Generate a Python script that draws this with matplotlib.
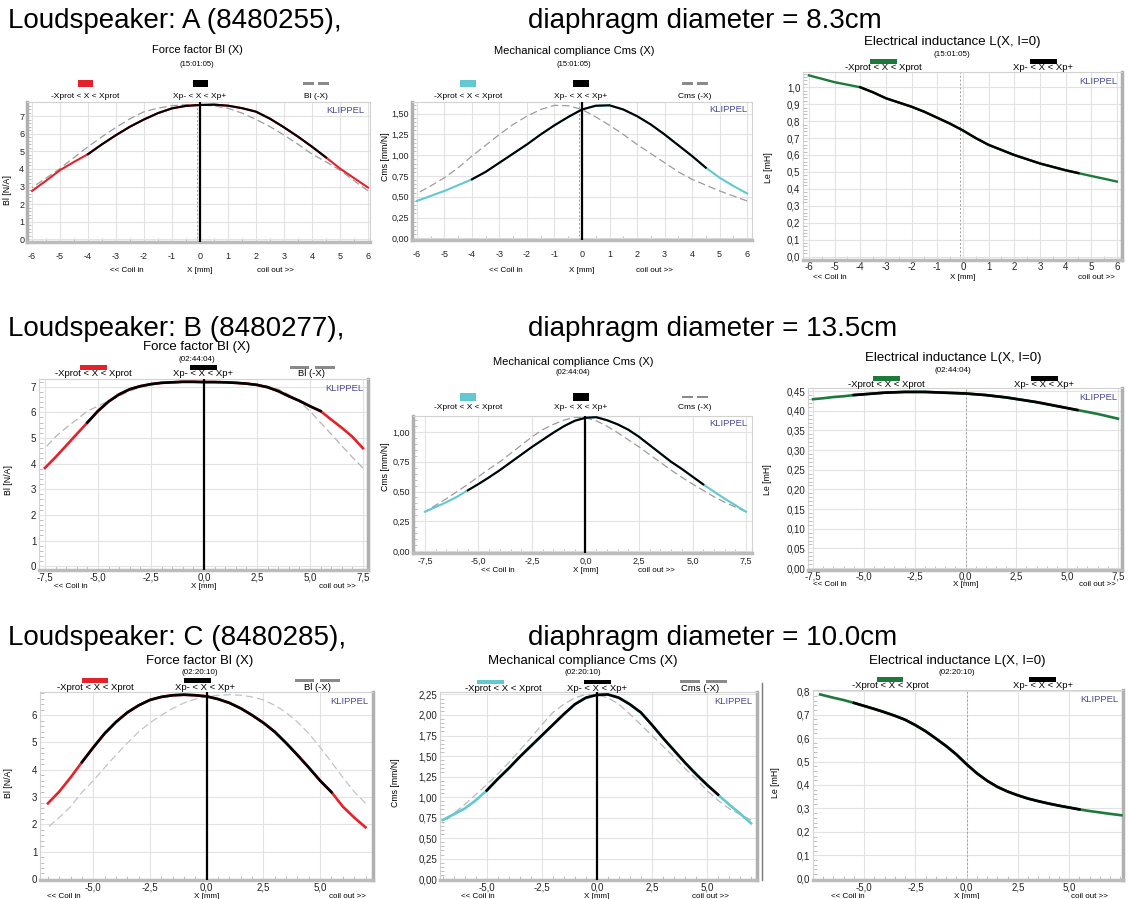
import numpy as np
import matplotlib
matplotlib.use("Agg")
import matplotlib.pyplot as plt
from matplotlib import font_manager
from matplotlib.patches import Rectangle
from matplotlib.lines import Line2D
from matplotlib.ticker import MultipleLocator, FuncFormatter

# ---------------- data ----------------
headers = ["Loudspeaker: A (8480255),", "Loudspeaker: B (8480277),", "Loudspeaker: C (8480285),"]
diameters = ["diaphragm diameter = 8.3cm", "diaphragm diameter = 13.5cm", "diaphragm diameter = 10.0cm"]
stamps = ["(15:01:05)", "(02:44:04)", "(02:20:10)"]

# loudspeaker A
x_a = [-6.0, -5.5, -5.0, -4.5, -4.0, -3.5, -3.0, -2.5, -2.0, -1.5, -1.0, -0.5, 0.0,
       0.5, 1.0, 1.5, 2.0, 2.5, 3.0, 3.5, 4.0, 4.5, 5.0, 5.5, 6.0]
bl_a = [2.75, 3.33, 3.93, 4.40, 4.84, 5.40, 5.92, 6.40, 6.81, 7.17, 7.44, 7.58, 7.63,
        7.65, 7.59, 7.45, 7.25, 6.85, 6.36, 5.83, 5.26, 4.65, 4.02, 3.48, 2.94]
cms_a = [0.45, 0.51, 0.57, 0.64, 0.71, 0.80, 0.91, 1.02, 1.13, 1.25, 1.36, 1.46, 1.55,
         1.595, 1.60, 1.55, 1.47, 1.37, 1.25, 1.12, 0.99, 0.85, 0.73, 0.63, 0.54]
le_a = [1.07, 1.05, 1.03, 1.015, 1.00, 0.97, 0.935, 0.91, 0.885, 0.855, 0.82, 0.785, 0.745,
        0.70, 0.66, 0.63, 0.60, 0.575, 0.55, 0.53, 0.51, 0.493, 0.476, 0.46, 0.443]

# loudspeaker B
x_b = [-7.5, -7.0, -6.5, -6.0, -5.5, -5.0, -4.5, -4.0, -3.5, -3.0, -2.5, -2.0, -1.5, -1.0, -0.5, 0.0,
       0.5, 1.0, 1.5, 2.0, 2.5, 3.0, 3.5, 4.0, 4.5, 5.0, 5.5, 6.0, 6.5, 7.0, 7.5]
bl_b = [3.83, 4.25, 4.70, 5.15, 5.60, 6.05, 6.42, 6.70, 6.90, 7.02, 7.10, 7.15, 7.17, 7.19, 7.19, 7.18,
        7.18, 7.17, 7.15, 7.12, 7.07, 6.98, 6.83, 6.63, 6.45, 6.24, 6.05, 5.72, 5.40, 5.05, 4.60]
cms_b = [0.33, 0.37, 0.41, 0.456, 0.51, 0.563, 0.62, 0.68, 0.745, 0.81, 0.875, 0.935, 0.995, 1.05, 1.095, 1.12,
         1.125, 1.10, 1.065, 1.02, 0.96, 0.89, 0.82, 0.75, 0.69, 0.625, 0.56, 0.50, 0.44, 0.385, 0.33]
le_b = [0.4295, 0.432, 0.435, 0.437, 0.440, 0.442, 0.444, 0.446, 0.447, 0.448, 0.448, 0.448, 0.447, 0.446, 0.445, 0.444,
        0.442, 0.440, 0.437, 0.434, 0.430, 0.426, 0.422, 0.417, 0.412, 0.407, 0.402, 0.397, 0.392, 0.386, 0.380]

# loudspeaker C
x_c = [-7.0, -6.5, -6.0, -5.5, -5.0, -4.5, -4.0, -3.5, -3.0, -2.5, -2.0, -1.5, -1.0, -0.5, 0.0,
       0.5, 1.0, 1.5, 2.0, 2.5, 3.0, 3.5, 4.0, 4.5, 5.0, 5.5, 6.0, 6.5, 7.0]
bl_c = [2.77, 3.20, 3.72, 4.28, 4.82, 5.33, 5.75, 6.10, 6.36, 6.56, 6.67, 6.73, 6.75, 6.73, 6.69,
        6.59, 6.45, 6.25, 6.00, 5.72, 5.39, 4.98, 4.54, 4.08, 3.60, 3.18, 2.65, 2.25, 1.89]
cms_c = [0.72, 0.79, 0.86, 0.96, 1.08, 1.22, 1.35, 1.49, 1.62, 1.75, 1.88, 2.01, 2.13, 2.21, 2.245,
         2.25, 2.21, 2.13, 2.03, 1.88, 1.72, 1.57, 1.42, 1.28, 1.15, 1.03, 0.91, 0.80, 0.68]
x_c_le = [-7.15, -6.5, -6.0, -5.5, -5.0, -4.5, -4.0, -3.5, -3.0, -2.5, -2.0, -1.5, -1.0, -0.5, 0.0,
          0.5, 1.0, 1.5, 2.0, 2.5, 3.0, 3.5, 4.0, 4.5, 5.0, 5.5, 6.0, 6.5, 7.0, 7.55]
le_c = [0.786, 0.772, 0.762, 0.750, 0.737, 0.724, 0.710, 0.695, 0.678, 0.655, 0.629, 0.598, 0.566, 0.530, 0.488,
        0.450, 0.418, 0.392, 0.372, 0.356, 0.342, 0.331, 0.321, 0.312, 0.304, 0.296, 0.289, 0.283, 0.277, 0.271]

# ---------------- style ----------------
names = {f.name for f in font_manager.fontManager.ttflist}
SANS = "Liberation Sans"
NARROW = "Liberation Sans Narrow" if "Liberation Sans Narrow" in names else SANS

RED = "#e3222a"
CYAN = "#62c8d2"
GREEN = "#1d7a3b"
DASH = "#9c9c9c"
KLIP = "#4a4a96"
GRID = "#e2e2e2"

W, H = 1128, 899
fig = plt.figure(figsize=(W / 100, H / 100), dpi=100)
fig.patch.set_facecolor("white")


def add_axes(l, t, r, b):
    return fig.add_axes([l / W, 1 - b / H, (r - l) / W, (b - t) / H])


def fig_text(px, py, s, **kw):
    fig.text(px / W, 1 - py / H, s, **kw)


def fig_rect(x0, x1, yc, h, color):
    fig.add_artist(Rectangle((x0 / W, 1 - (yc + h / 2) / H), (x1 - x0) / W, h / H,
                             transform=fig.transFigure, color=color, lw=0))


def dec_fmt(d):
    def f(v, _):
        if abs(v) < 1e-9:
            v = 0.0
        return f"{v:.{d}f}".replace(".", ",")
    return FuncFormatter(f)


def draw_panel(p):
    l, t, r, b = p["box"]
    ax = add_axes(l, t, r, b)
    font = p["font"]
    fs = p["fs"]
    x = np.asarray(p["x"], dtype=float)
    y = np.asarray(p["y"], dtype=float)
    lw = p.get("lw", 1.7)

    ax.axvline(p["rest"], color="#a0a0a0", lw=0.7, ls=(0, (2, 2)), zorder=1)
    if p["mirror"]:
        ax.plot(-x, y, color=p.get("dash_color", DASH), lw=0.9, ls=(0, (6, 3)), zorder=2)
    ax.plot(x, y, color=p["color"], lw=lw, zorder=3)
    inner = (x >= p["inner"][0]) & (x <= p["inner"][1])
    ax.plot(x[inner], y[inner], color="black", lw=lw, zorder=4)
    if p["mirror"]:
        ax.axvline(0, color="black", lw=1.6, zorder=5)

    ax.set_xlim(*p["xlim"])
    ax.set_ylim(*p["ylim"])
    x0, x1, xs = p["xticks"]
    ax.set_xticks(np.arange(x0, x1 + xs / 2, xs))
    y0, y1, ys = p["yticks"]
    ax.set_yticks(np.arange(y0, y1 + ys / 2, ys))
    ax.xaxis.set_major_formatter(dec_fmt(p["xdec"]))
    ax.yaxis.set_major_formatter(dec_fmt(p["ydec"]))
    ax.xaxis.set_minor_locator(MultipleLocator(0.5))
    ax.yaxis.set_minor_locator(MultipleLocator(ys / 5))
    ax.tick_params(which="major", length=0, labelsize=fs, labelfontfamily=font, colors="#222222")
    ax.tick_params(axis="x", which="major", pad=p["xpad"])
    ax.tick_params(axis="y", which="major", pad=2)
    ax.tick_params(which="minor", direction="in", length=3, width=0.6, color="#b5b5b5")
    ax.grid(True, which="major", color=GRID, lw=0.8)
    ax.set_axisbelow(True)

    for s in ax.spines.values():
        s.set_color("#d2d2d2")
        s.set_linewidth(0.8)
    ax.spines["bottom"].set_linewidth(2.5)
    ax.spines["bottom"].set_color("#bcbcbc")
    side = "left" if p.get("thick_left") else "right"
    ax.spines[side].set_linewidth(2.5)
    ax.spines[side].set_color("#b0b0b0")

    ax.text(0.985, 0.975, "KLIPPEL", transform=ax.transAxes, ha="right", va="top",
            color=KLIP, fontsize=p.get("kfs", 6.8), family=font, zorder=6)

    lx, ly = p["ylabel_xy"]
    ax.set_ylabel(p["ylabel"], fontsize=p.get("lfs", 6.3), family=font)
    ax.yaxis.set_label_coords((lx - l) / (r - l), (b - ly) / (b - t))

    # x-axis captions below tick labels
    def px_of(xd):
        return l + (xd - p["xlim"][0]) / (p["xlim"][1] - p["xlim"][0]) * (r - l)
    cl, cr = p["coil"]
    cy = p["coil_y"]
    cfs = p.get("cfs", 5.8)
    fig_text(px_of(cl), cy, "<< Coil in", ha="center", va="center", fontsize=cfs, family=font)
    fig_text(px_of(0), cy, "X [mm]", ha="center", va="center", fontsize=cfs, family=font)
    fig_text(px_of(cr), cy, "coil out >>", ha="center", va="center", fontsize=cfs, family=font)

    # title + time stamp
    tx, ty = p["title_xy"]
    fig_text(tx, ty, p["title"], ha="center", va="center", fontsize=p["tfs"], family=font)
    fig_text(tx, p["stamp_y"], p["stamp"], ha="center", va="center", fontsize=p.get("sfs", 5.8), family=font)

    # legend strip above the plot
    py_, ph, lab_y = p["patch"]
    for cx, pw, kind, lab, lab_x in p["legend"]:
        if kind == "dash":
            gap = pw * 0.12
            half = (pw - gap) / 2
            fig_rect(cx - pw / 2, cx - pw / 2 + half, py_, 2.2, "#8a8a8a")
            fig_rect(cx + gap / 2, cx + gap / 2 + half, py_, 2.2, "#8a8a8a")
        else:
            fig_rect(cx - pw / 2, cx + pw / 2, py_, ph, kind)
        fig_text(lab_x, lab_y, lab, ha="center", va="center", fontsize=p.get("gfs", 6.8), family=font)
    return ax


panels = [
    # ---- row A ----
    dict(box=(27, 102, 370, 242), x=x_a, y=bl_a, inner=(-4.0, 4.5), color=RED, mirror=True,
         xlim=(-6.18, 6.07), ylim=(-0.15, 7.8), xticks=(-6, 6, 1), xdec=0, yticks=(0, 7, 1), ydec=0,
         font=NARROW, fs=6.5, xpad=7, rest=-0.1, thick_left=True, lw=1.5,
         title="Force factor Bl (X)", tfs=8, title_xy=(197, 50), stamp=stamps[0], stamp_y=65, sfs=5.5,
         patch=(83.5, 7, 97), gfs=6,
         legend=[(85, 15, RED, "-Xprot < X < Xprot", 85), (200, 15, "black", "Xp- < X < Xp+", 200),
                 (316, 26, "dash", "Bl (-X)", 316)],
         ylabel="Bl [N/A]", ylabel_xy=(12, 190), coil=(-2.6, 2.68), coil_y=270),
    dict(box=(412, 102, 752, 240), x=x_a, y=cms_a, inner=(-4.0, 4.5), color=CYAN, mirror=True,
         xlim=(-6.18, 6.18), ylim=(-0.02, 1.64), xticks=(-6, 6, 1), xdec=0, yticks=(0, 1.5, 0.25), ydec=2,
         font=NARROW, fs=6.5, xpad=7, rest=-0.1, thick_left=True, lw=1.5,
         title="Mechanical compliance Cms (X)", tfs=8, title_xy=(574, 51), stamp=stamps[0], stamp_y=65, sfs=5.5,
         patch=(83.5, 7, 97), gfs=6,
         legend=[(468, 16, CYAN, "-Xprot < X < Xprot", 468), (581, 16, "black", "Xp- < X < Xp+", 581),
                 (695, 26, "dash", "Cms (-X)", 695)],
         ylabel="Cms [mm/N]", ylabel_xy=(390, 157), coil=(-2.76, 2.65), coil_y=270),
    dict(box=(803, 72, 1122, 260), x=x_a, y=le_a, inner=(-4.0, 4.5), color=GREEN, mirror=False,
         xlim=(-6.23, 6.2), ylim=(-0.02, 1.09), xticks=(-6, 6, 1), xdec=0, yticks=(0, 1.0, 0.1), ydec=1,
         font=SANS, fs=7, xpad=1.5, rest=-0.1,
         title="Electrical inductance L(X, I=0)", tfs=9.5, title_xy=(952, 42.5), stamp=stamps[0], stamp_y=54,
         patch=(61.5, 5, 68),
         legend=[(883, 27, GREEN, "-Xprot < X < Xprot", 883), (1043, 27, "black", "Xp- < X < Xp+", 1043)],
         ylabel="Le [mH]", ylabel_xy=(773, 168), coil=(-5.2, 5.2), coil_y=277.5),
    # ---- row B ----
    dict(box=(39, 379, 368, 570), x=x_b, y=bl_b, inner=(-5.5, 5.5), color=RED, mirror=True,
         xlim=(-7.78, 7.74), ylim=(-0.15, 7.3), xticks=(-7.5, 7.5, 2.5), xdec=1, yticks=(0, 7, 1), ydec=0,
         font=SANS, fs=7, xpad=1.5, rest=0.0, lw=1.9, dash_color="#b5b5b5",
         title="Force factor Bl (X)", tfs=9.5, title_xy=(197, 347), stamp=stamps[1], stamp_y=359,
         patch=(367.5, 5, 374),
         legend=[(93, 27, RED, "-Xprot < X < Xprot", 93), (203, 27, "black", "Xp- < X < Xp+", 203),
                 (312, 45, "dash", "Bl (-X)", 312)],
         ylabel="Bl [N/A]", ylabel_xy=(13, 480), coil=(-6.3, 6.3), coil_y=586),
    dict(box=(413, 416, 752, 553), x=x_b, y=cms_b, inner=(-5.5, 5.5), color=CYAN, mirror=True,
         xlim=(-8.06, 7.78), ylim=(-0.017, 1.135), xticks=(-7.5, 7.5, 2.5), xdec=1, yticks=(0, 1.0, 0.25), ydec=2,
         font=NARROW, fs=6.5, xpad=3, rest=0.0, thick_left=True, lw=1.5,
         title="Mechanical compliance Cms (X)", tfs=8, title_xy=(573, 362), stamp=stamps[1], stamp_y=373, sfs=5.5,
         patch=(397, 8, 408), gfs=6,
         legend=[(468, 16, CYAN, "-Xprot < X < Xprot", 468), (581, 16, "black", "Xp- < X < Xp+", 581),
                 (695, 26, "dash", "Cms (-X)", 695)],
         ylabel="Cms [mm/N]", ylabel_xy=(390, 467), coil=(-4.1, 3.3), coil_y=571),
    dict(box=(808, 388, 1122, 570), x=x_b, y=le_b, inner=(-5.5, 5.5), color=GREEN, mirror=False,
         xlim=(-7.75, 7.7), ylim=(-0.005, 0.458), xticks=(-7.5, 7.5, 2.5), xdec=1, yticks=(0, 0.45, 0.05), ydec=2,
         font=SANS, fs=7, xpad=1, rest=0.0, lw=1.9,
         title="Electrical inductance L(X, I=0)", tfs=9.5, title_xy=(953, 358), stamp=stamps[1], stamp_y=370,
         patch=(378, 5, 384),
         legend=[(886, 27, GREEN, "-Xprot < X < Xprot", 886), (1044, 27, "black", "Xp- < X < Xp+", 1044)],
         ylabel="Le [mH]", ylabel_xy=(772, 480), coil=(-6.7, 6.5), coil_y=585),
    # ---- row C ----
    dict(box=(40, 692, 373, 880), x=x_c, y=bl_c, inner=(-5.5, 5.5), color=RED, mirror=True,
         xlim=(-7.35, 7.33), ylim=(-0.04, 6.85), xticks=(-5, 5, 2.5), xdec=1, yticks=(0, 6, 1), ydec=0,
         font=SANS, fs=7, xpad=2, rest=0.0, lw=1.9, dash_color="#c4c4c4",
         title="Force factor Bl (X)", tfs=9.5, title_xy=(200, 661), stamp=stamps[2], stamp_y=672.5,
         patch=(680.5, 5, 687.5),
         legend=[(95, 26, RED, "-Xprot < X < Xprot", 95), (197, 27, "black", "Xp- < X < Xp+", 205),
                 (317, 45, "dash", "Bl (-X)", 317)],
         ylabel="Bl [N/A]", ylabel_xy=(13, 783), coil=(-6.3, 6.2), coil_y=897),
    dict(box=(440, 692, 757, 880), x=x_c, y=cms_c, inner=(-5.0, 5.5), color=CYAN, mirror=True,
         xlim=(-7.12, 7.27), ylim=(-0.01, 2.28), xticks=(-5, 5, 2.5), xdec=1, yticks=(0, 2.25, 0.25), ydec=2,
         font=SANS, fs=7, xpad=2, rest=0.0, lw=1.9, dash_color="#b8b8b8",
         title="Mechanical compliance Cms (X)", tfs=9.5, title_xy=(583, 661), stamp=stamps[2], stamp_y=673,
         patch=(681.5, 4, 688.5),
         legend=[(490, 27, CYAN, "-Xprot < X < Xprot", 503), (597, 27, "black", "Xp- < X < Xp+", 597),
                 (703, 47, "dash", "Cms (-X)", 700)],
         ylabel="Cms [mm/N]", ylabel_xy=(400, 783), coil=(-5.4, 5.15), coil_y=897),
    dict(box=(813, 690, 1123, 880), x=x_c_le, y=le_c, inner=(-5.5, 5.5), color=GREEN, mirror=False,
         xlim=(-7.5, 7.63), ylim=(-0.005, 0.805), xticks=(-5, 5, 2.5), xdec=1, yticks=(0, 0.8, 0.1), ydec=1,
         font=SANS, fs=7, xpad=2, rest=0.0, lw=1.9,
         title="Electrical inductance L(X, I=0)", tfs=9.5, title_xy=(957, 661), stamp=stamps[2], stamp_y=672.5,
         patch=(679.5, 5, 686),
         legend=[(890, 26, GREEN, "-Xprot < X < Xprot", 890), (1042, 27, "black", "Xp- < X < Xp+", 1043)],
         ylabel="Le [mH]", ylabel_xy=(780, 783), coil=(-5.8, 6.0), coil_y=897),
]

for p in panels:
    draw_panel(p)

# row headers
for yc, name, diam in zip([21, 329, 638], headers, diameters):
    fig_text(8, yc, name, ha="left", va="center", fontsize=20, family=SANS)
    fig_text(528, yc, diam, ha="left", va="center", fontsize=20, family=SANS)

# frame edge of the last inductance chart
fig.add_artist(Line2D([762 / W, 762 / W], [1 - 683 / H, 1 - 880 / H], color="#7a7a7a", lw=1,
                      transform=fig.transFigure))

fig.savefig("out.png", dpi=100)
